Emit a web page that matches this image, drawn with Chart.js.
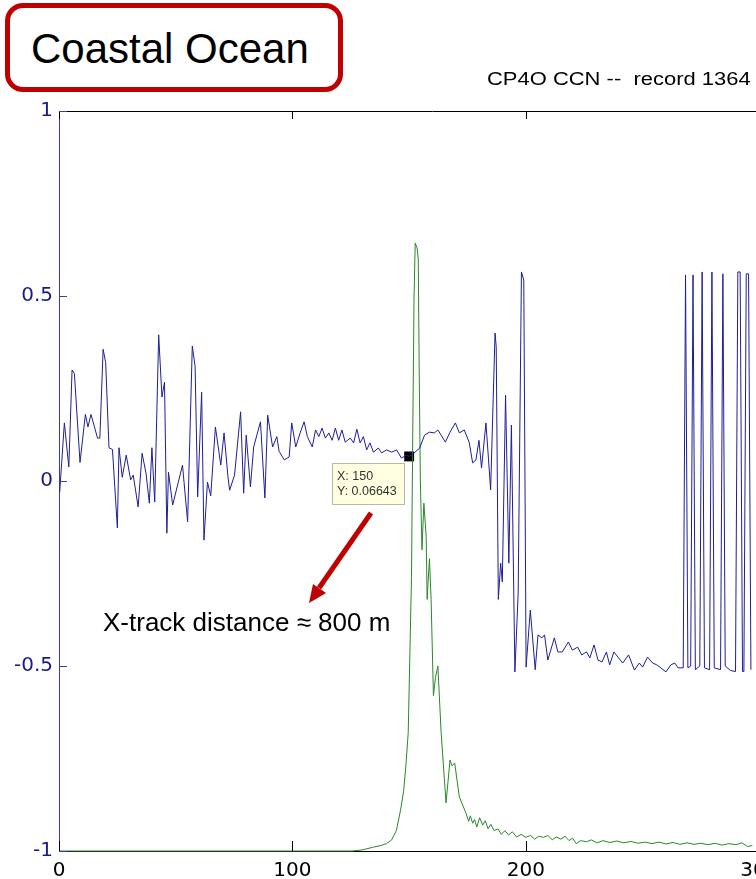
<!DOCTYPE html>
<html>
<head>
<meta charset="utf-8">
<script src="https://cdn.jsdelivr.net/npm/chart.js@4/dist/chart.umd.min.js"></script>
<style>
  html, body { margin: 0; padding: 0; background: #fff; overflow: hidden; width: 756px; height: 879px; }
  #wrap { position: absolute; left: 0; top: 0; width: 813px; height: 879px; }
  .txt { position: absolute; font-family: "Liberation Sans", Arial, sans-serif; color: #000; white-space: pre; }
  #box { position: absolute; left: 5px; top: 3px; width: 338px; height: 89px; box-sizing: border-box;
         border: 5px solid #c00000; border-radius: 18px; background: #fff; z-index: 2; }
  #boxText { left: 31px; top: 28px; font-size: 42px; line-height: 42px; z-index: 3; }
  #title { left: 487px; top: 70px; font-size: 18px; line-height: 18px; transform: scaleX(1.22); transform-origin: left top; }
  #note { left: 103px; top: 609px; font-size: 26px; line-height: 26px; z-index: 3; }
  #arrow { position: absolute; left: 0; top: 0; z-index: 3; }
</style>
</head>
<body>
<div id="wrap"><canvas id="c" width="813" height="879"></canvas></div>
<div id="box"></div>
<div class="txt" id="boxText">Coastal Ocean</div>
<div class="txt" id="title">CP4O CCN --  record 1364</div>
<div class="txt" id="note">X-track distance ≈ 800 m</div>
<svg id="arrow" width="756" height="879">
  <line x1="371" y1="513" x2="319" y2="588" stroke="#c00000" stroke-width="5"/>
  <polygon points="309,603 326,593 313,584" fill="#c00000"/>
</svg>
<script>
// waveform samples (x = range bin)
const blueX = [0.3,2.3,4.2,5.6,6.6,9.0,11.3,12.4,13.7,16.5,17.5,18.9,20.0,21.4,22.9,25.0,25.7,27.1,28.8,30.7,
  31.8,33.9,35.6,37.3,38.7,39.8,41.0,42.7,44.1,45.2,46.2,46.9,48.7,52.9,55.1,57.1,58.3,59.4,61.1,62.1,
  63.6,65.0,67.0,69.3,70.7,72.4,73.1,75.2,77.8,79.1,80.2,82.0,83.4,86.3,88.2,89.4,91.5,93.3,94.3,96.5,
  98.6,99.7,101.4,103.3,105.0,106.4,108.5,109.9,111.3,112.7,114.1,115.6,117.0,118.4,119.8,121.2,122.6,124.8,126.2,127.6,
  129.0,130.4,131.8,133.2,134.7,136.8,138.2,140.3,142.5,144.6,146.7,148.8,150.0,152.0,154.5,156.6,158.7,160.8,162.3,163.7,
  165.5,167.5,169.8,171.5,173.6,175.7,177.2,178.6,179.9,181.0,182.9,184.9,186.8,187.3,188.2,189.2,189.9,191.3,192.7,193.8,
  195.3,196.7,198.1,199.1,200.1,201.9,204.0,205.2,206.9,208.0,209.4,212.2,213.7,215.6,218.2,219.9,222.2,223.9,226.0,227.4,
  229.2,230.9,232.6,234.5,235.9,237.7,239.7,241.5,244.0,246.5,248.6,250.0,252.1,254.3,256.1,257.8,260.0,262.1,263.8,265.2,
  267.4,268.4,269.4,270.6,271.6,272.6,274.5,275.5,276.5,278.7,279.7,280.7,283.4,284.4,285.4,287.6,289.8,290.8,291.8,292.8,
  293.4,294.4,295.4,296.4];
const blueY = [-0.03,0.157,0.038,0.30,0.29,0.05,0.18,0.146,0.18,0.116,0.116,0.356,0.32,0.09,0.085,-0.127,0.09,0.01,0.07,0.003,
  0.016,-0.07,0.075,0.02,-0.06,0.09,-0.057,0.395,0.227,0.267,-0.141,0.024,-0.065,0.043,-0.11,0.365,0.31,-0.043,0.24,-0.16,
  -0.003,-0.04,0.146,0.043,0.13,0.01,-0.025,0.016,0.187,-0.033,0.124,-0.016,0.092,0.16,-0.046,0.178,0.092,0.12,0.08,0.057,
  0.065,0.157,0.092,0.13,0.16,0.12,0.092,0.138,0.12,0.143,0.116,0.13,0.11,0.143,0.11,0.138,0.105,0.116,0.103,0.14,
  0.103,0.12,0.084,0.103,0.078,0.089,0.076,0.084,0.078,0.084,0.062,0.07,0.06643,0.075,0.089,0.124,0.132,0.13,0.138,0.124,
  0.105,0.132,0.157,0.13,0.138,0.105,0.049,0.057,0.11,0.035,0.157,-0.024,0.40,0.362,-0.32,-0.222,-0.273,0.232,-0.222,0.151,
  -0.516,-0.303,0.565,0.543,-0.503,-0.349,-0.51,-0.416,-0.424,-0.416,-0.484,-0.424,-0.462,-0.462,-0.435,-0.457,-0.449,-0.47,-0.462,-0.478,
  -0.443,-0.484,-0.489,-0.462,-0.497,-0.462,-0.478,-0.492,-0.47,-0.511,-0.492,-0.503,-0.476,-0.492,-0.497,-0.505,-0.516,-0.497,-0.492,-0.505,
  -0.505,0.557,-0.505,-0.5,0.557,-0.51,-0.5,0.565,-0.505,-0.51,0.565,-0.505,-0.51,0.56,-0.5,-0.512,-0.515,0.565,0.565,-0.515,
  -0.515,0.56,0.56,-0.51];

const greenX = [0,125.5,130,134.4,138,140.3,142.5,144.5,146.3,147.6,148.6,149.6,150.2,151.0,151.5,152.1,152.6,153.4,153.9,154.3,
  154.8,155.5,156.3,157.3,157.7,158.7,159.4,160.4,161.3,162.3,163.7,165.8,167.5,168.4,169.5,171.5,174.3,175.5,176.2,177.2,
  178.0,179.0,180.2,181.5,182.6,183.8,185.0,186.4,188.0,189.5,191.0,192.6,194.2,196.0,198.0,200.0,202.0,203.8,205.5,207.5,
  209.5,211.3,213.0,215.0,216.8,218.5,220.0,221.5,223.5,226.0,228.0,230.5,233.0,236.0,239.0,242.0,245.0,248.0,251.0,254.0,
  257.0,260.0,263.0,266.0,269.0,272.0,275.0,278.0,281.0,284.0,287.0,290.0,292.5,295.0,297.0];
const greenY = [-1,-1,-0.997,-0.99,-0.985,-0.98,-0.97,-0.945,-0.89,-0.84,-0.77,-0.68,-0.50,-0.26,0.10,0.50,0.643,0.63,0.60,0.30,
  0.0,-0.186,-0.06,-0.15,-0.32,-0.21,-0.32,-0.58,-0.53,-0.50,-0.68,-0.87,-0.754,-0.77,-0.762,-0.854,-0.897,-0.92,-0.905,-0.925,
  -0.915,-0.935,-0.91,-0.93,-0.918,-0.94,-0.928,-0.945,-0.94,-0.955,-0.945,-0.957,-0.948,-0.962,-0.955,-0.963,-0.958,-0.968,-0.96,-0.963,
  -0.958,-0.97,-0.962,-0.968,-0.96,-0.972,-0.965,-0.98,-0.972,-0.975,-0.97,-0.978,-0.972,-0.977,-0.973,-0.978,-0.974,-0.979,-0.976,-0.98,
  -0.976,-0.981,-0.977,-0.982,-0.978,-0.982,-0.979,-0.983,-0.979,-0.984,-0.98,-0.983,-0.978,-0.988,-0.985];

// data tip
const tipX = 150;
const tipY = 0.06643;

// axes
const xMax = 320;
const xTicks = [0, 100, 200, 300];
const xTickLabels = ['0', '100', '200', '300'];
const yTicks = [-1, -0.5, 0, 0.5, 1];
const yTickLabels = ['-1', '-0.5', '0', '0.5', '1'];

const blueCol = '#1e1e96';
const axisBlue = '#3c3ca0';

function pts(xs, ys) {
  return xs.map(function (x, i) { return { x: x, y: ys[i] }; });
}

// matlab style ticks pointing inward + top box edge
const innerTicks = {
  id: 'innerTicks',
  afterDraw(chart) {
    const ctx = chart.ctx, a = chart.chartArea;
    const xs = chart.scales.x, ys = chart.scales.y;
    ctx.save();
    ctx.lineWidth = 1;
    ctx.strokeStyle = '#000';
    ctx.beginPath();
    ctx.moveTo(a.left, a.top + 0.5);
    ctx.lineTo(a.right, a.top + 0.5);
    xTicks.forEach(function (v) {
      const px = Math.round(xs.getPixelForValue(v)) + 0.5;
      ctx.moveTo(px, a.bottom);
      ctx.lineTo(px, a.bottom - 10);
      ctx.moveTo(px, a.top);
      ctx.lineTo(px, a.top + 8);
    });
    ctx.stroke();
    ctx.strokeStyle = axisBlue;
    ctx.beginPath();
    yTicks.forEach(function (v) {
      const py = Math.round(ys.getPixelForValue(v)) + 0.5;
      ctx.moveTo(a.left, py);
      ctx.lineTo(a.left + 8, py);
    });
    ctx.stroke();
    ctx.restore();
  }
};

// data cursor box under the marked point
const dataTip = {
  id: 'dataTip',
  afterDatasetsDraw(chart) {
    const p = chart.getDatasetMeta(2).data[0];
    if (!p) return;
    const ctx = chart.ctx;
    const bx = Math.round(p.x) - 77 + 0.5, by = Math.round(p.y) + 7 + 0.5;
    ctx.save();
    ctx.fillStyle = '#ffffe1';
    ctx.strokeStyle = '#b8b8a4';
    ctx.lineWidth = 1;
    ctx.fillRect(bx, by, 72, 41);
    ctx.strokeRect(bx, by, 72, 41);
    ctx.fillStyle = '#333';
    ctx.font = '12.5px "Liberation Sans", Arial, sans-serif';
    ctx.textBaseline = 'alphabetic';
    ctx.fillText('X: ' + tipX, bx + 4.5, by + 16);
    ctx.fillText('Y: ' + tipY, bx + 4.5, by + 31);
    ctx.restore();
  }
};

Chart.defaults.font.family = '"DejaVu Sans", sans-serif';

const chart = new Chart(document.getElementById('c'), {
  type: 'line',
  data: {
    datasets: [{
      data: pts(blueX, blueY),
      borderColor: blueCol,
      borderWidth: 1,
      pointRadius: 0,
      tension: 0,
      clip: 3
    }, {
      data: pts(greenX, greenY),
      borderColor: '#2a862a',
      borderWidth: 1,
      pointRadius: 0,
      tension: 0,
      clip: 3
    }, {
      data: [{ x: tipX, y: tipY }],
      showLine: false,
      pointStyle: 'rect',
      pointRadius: 7,
      pointBorderWidth: 0,
      backgroundColor: '#000',
      borderColor: '#000'
    }]
  },
  options: {
    responsive: false,
    animation: false,
    devicePixelRatio: 1,
    layout: { padding: { top: 111, left: 0, right: 0, bottom: 0 } },
    plugins: { legend: { display: false }, tooltip: { enabled: false } },
    scales: {
      x: {
        type: 'linear',
        min: 0,
        max: xMax,
        afterFit(axis) { axis.height = 28; },
        afterBuildTicks(axis) { axis.ticks = xTicks.map(function (v) { return { value: v }; }); },
        grid: { display: false, drawTicks: false },
        border: { color: '#000', width: 1 },
        ticks: {
          padding: 8,
          color: '#000',
          font: { size: 20 },
          callback: function (v) { const i = xTicks.indexOf(v); return i < 0 ? '' : xTickLabels[i]; }
        }
      },
      y: {
        min: -1,
        max: 1,
        afterFit(axis) { axis.width = 59; },
        afterBuildTicks(axis) { axis.ticks = yTicks.map(function (v) { return { value: v }; }); },
        grid: { display: false, drawTicks: false },
        border: { color: axisBlue, width: 1 },
        ticks: {
          padding: 6,
          color: '#1a1a8c',
          font: { size: 20 },
          callback: function (v) { const i = yTicks.indexOf(v); return i < 0 ? '' : yTickLabels[i]; }
        }
      }
    }
  },
  plugins: [innerTicks, dataTip]
});
</script>
</body>
</html>
